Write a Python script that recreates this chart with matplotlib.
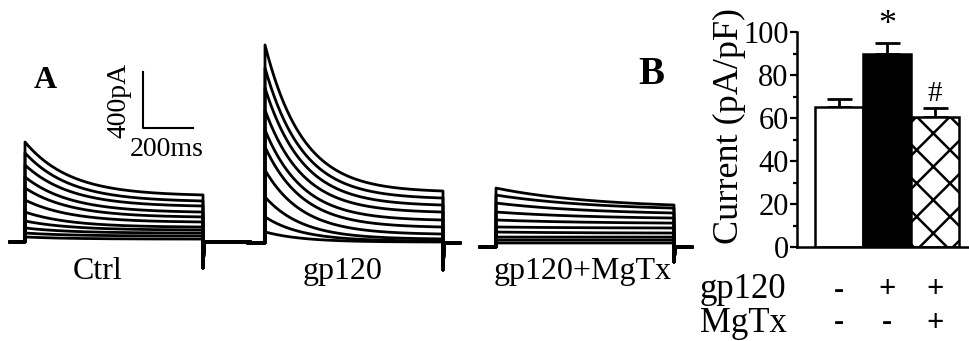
import numpy as np
import matplotlib
matplotlib.use("Agg")
import matplotlib.pyplot as plt

plt.rcParams["font.family"] = ["Liberation Serif", "DejaVu Serif"]
plt.rcParams["hatch.linewidth"] = 1.8

# ---- panel A: current traces (pA), read at step onset (peak) and step end ----
step_ms = 712
ctrl_peak = [714, 636, 550, 464, 386, 300, 214, 150, 100, 64, 36]
ctrl_end = [336, 293, 257, 214, 179, 143, 107, 86, 64, 43, 21]
ctrl_tau = 180
gp120_peak = [1414, 1250, 1107, 950, 807, 686, 521, 329, 186, 79]
gp120_end = [371, 321, 271, 221, 164, 114, 64, 29, 14, 7]
gp120_tau = 150
mgtx_peak = [421, 371, 314, 250, 193, 143, 107, 71, 50, 29]
mgtx_end = [300, 278, 243, 207, 171, 136, 100, 71, 50, 29]
mgtx_tau = 400
tail_min = [-186, -193, -107]
trace_names = ["Ctrl", "gp120", "gp120+MgTx"]

# ---- panel B: bar chart ----
bar_vals = [65, 90, 60.5]
bar_err = [4, 5, 4]
gp120_row = ["-", "+", "+"]
mgtx_row = ["-", "-", "+"]
yticks = [0, 20, 40, 60, 80, 100]

fig = plt.figure(figsize=(9.7, 3.41), dpi=100)

ax = fig.add_axes([0, 0, 700 / 970, 1])
ax.set_xlim(0, 2800)
ax.set_ylim(-707, 1728)
ax.axis("off")


def draw_set(t0, pre, post, base, peaks, ends, tau, tail):
    t = np.linspace(0, step_ms, 400)
    for pk, en in zip(peaks, ends):
        shape = (np.exp(-t / tau) - np.exp(-step_ms / tau)) / (1 - np.exp(-step_ms / tau))
        cur = en + (pk - en) * shape
        te = t0 + step_ms
        xs = np.concatenate([[t0 - pre, t0, t0], t0 + t, [te, te, te + 6, te + post]])
        ys = np.concatenate([[base, base, base + pk], base + cur, [base + tail, base + tail, base, base]])
        ax.plot(xs, ys, color="black", lw=2.0, solid_joinstyle="round")


draw_set(100, 60, 188, 0, ctrl_peak, ctrl_end, ctrl_tau, tail_min[0])
draw_set(1060, 68, 68, -7, gp120_peak, gp120_end, gp120_tau, tail_min[1])
draw_set(1984, 64, 72, -36, mgtx_peak, mgtx_end, mgtx_tau, tail_min[2])

# scale bar 400 pA / 200 ms
ax.plot([572, 572, 772], [1214, 814, 814], color="black", lw=1.5)
ax.text(475, 1014, "400pA", rotation=90, ha="center", va="center", fontsize=20)
ax.text(668, 660, "200ms", ha="center", va="center", fontsize=20)

for name, xc in zip(trace_names, [390, 1372, 2330]):
    ax.text(xc, -105, name, ha="center", va="top", fontsize=23)

fig.text(45 / 970, 1 - 80 / 341, "A", fontsize=23, fontweight="bold", ha="center", va="center")
fig.text(651 / 970, 1 - 74 / 341, "B", fontsize=28, fontweight="bold", ha="center", va="center")

# ---- panel B ----
ax2 = fig.add_axes([797 / 970, 94 / 341, 173 / 970, 215 / 341])
xpos = np.arange(len(bar_vals))
ax2.bar(xpos, bar_vals, width=1.0, color=["white", "black", "white"],
        edgecolor="black", linewidth=1.8, hatch=["", "", "x"], zorder=2)
ax2.errorbar(xpos, bar_vals, yerr=[[0, 0, 0], bar_err], fmt="none", ecolor="black",
             elinewidth=2.0, capsize=9, capthick=2.0, zorder=1)
ax2.set_xlim(-0.87, 2.73)
ax2.set_ylim(0, 100)
ax2.set_yticks(yticks)
ax2.set_yticks(np.arange(10, 100, 20), minor=True)
ax2.tick_params(axis="y", which="major", length=5, width=1.6, pad=1, labelsize=22)
ax2.tick_params(axis="y", which="minor", length=3, width=1.6)
ax2.set_xticks([])
for s in ["top", "right"]:
    ax2.spines[s].set_visible(False)
for s in ["left", "bottom"]:
    ax2.spines[s].set_linewidth(1.8)

fig.text(729 / 970, 1 - 126 / 341, "Current (pA/pF)", rotation=90, ha="center", va="center", fontsize=26)

ax2.text(1, 103, "*", ha="center", va="center", fontsize=26, clip_on=False)
ax2.text(2, 71, "#", ha="center", va="center", fontsize=21, clip_on=False)

trans = matplotlib.transforms.blended_transform_factory(ax2.transData, fig.transFigure)
fig.text(700 / 970, 1 - 290 / 341, "gp120", ha="left", va="center", fontsize=25)
fig.text(700 / 970, 1 - 323 / 341, "MgTx", ha="left", va="center", fontsize=25)
for i in range(3):
    ax2.text(xpos[i], 1 - 290 / 341, gp120_row[i], transform=trans, ha="center", va="center",
             fontsize=22, fontweight="bold", clip_on=False)
    ax2.text(xpos[i], 1 - 323 / 341, mgtx_row[i], transform=trans, ha="center", va="center",
             fontsize=22, fontweight="bold", clip_on=False)

fig.savefig("out.png", dpi=100)
